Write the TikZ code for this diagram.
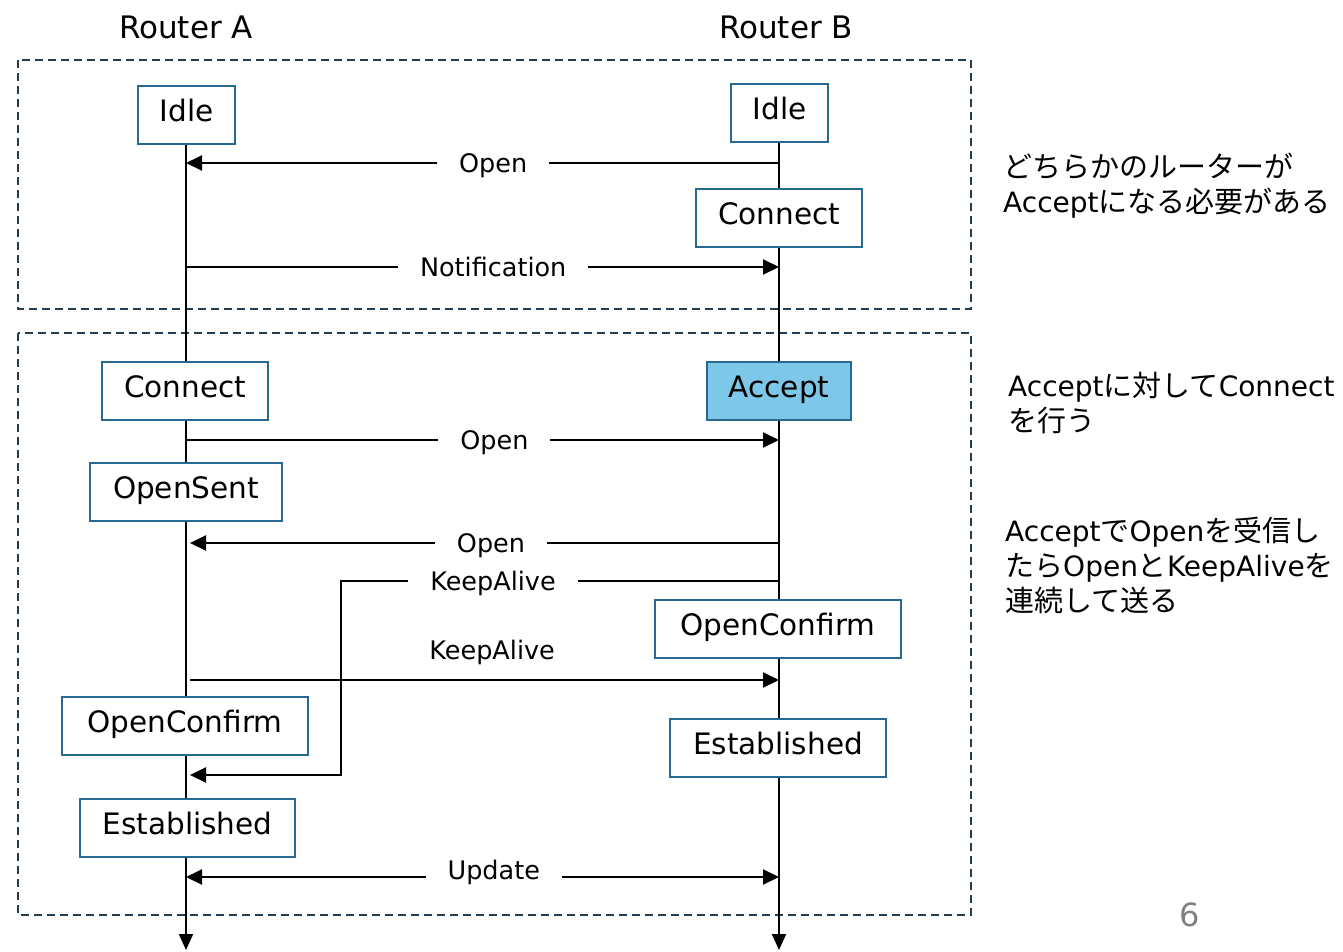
\documentclass[tikz,border=0pt]{standalone}
\usepackage{fontspec}
\setmainfont{DejaVu Sans}
\newfontfamily\jpfont{Noto Sans CJK JP}
\usetikzlibrary{arrows.meta,backgrounds}
\definecolor{boxc}{RGB}{40,105,145}
\definecolor{framec}{RGB}{35,60,80}
\definecolor{acceptc}{RGB}{125,200,233}
\definecolor{pagec}{RGB}{128,128,128}
\newcommand\jpt[1]{{\jpfont\fontsize{29}{35}\selectfont #1}}
\begin{document}
\begin{tikzpicture}[x=1pt,y=-1pt,
  stbox/.style={draw=boxc, line width=1.6pt, fill=white, minimum width=#1, minimum height=58pt,
    inner xsep=2pt, inner ysep=0pt, text height=21.5pt, text depth=8pt,
    font=\fontsize{29.5}{35}\selectfont},
  msg/.style={line width=2pt, -{Triangle[length=16pt,width=15pt]}},
  life/.style={line width=2pt, -{Triangle[length=16pt,width=14pt]}},
  lbl/.style={fill=white, inner xsep=22pt, inner ysep=1.5pt, text height=18.6pt, text depth=0pt,
    font=\fontsize{25.5}{30}\selectfont},
  plainlbl/.style={inner sep=0pt, text height=18.6pt, text depth=0pt, font=\fontsize{25.5}{30}\selectfont},
  dashframe/.style={draw=framec, line width=1.6pt, dash pattern=on 8pt off 5pt},
  annot/.style={anchor=west, align=left, inner sep=0pt, font=\fontsize{28}{35}\selectfont},
  rtitle/.style={text height=22.6pt, text depth=0pt, inner sep=0pt, font=\fontsize{31}{36}\selectfont}]
\useasboundingbox (0,0) rectangle (1343,951);

% titles
\node[rtitle] (ra) at (186,27) {Router A};
\node[rtitle] (rb) at (786,27) {Router B};

% state boxes
\node[stbox=97pt] (idleA) at (186.5,115) {Idle};
\node[stbox=97pt] (idleB) at (779.5,113) {Idle};
\node[stbox=166pt] (connB) at (779,218) {Connect};
\node[stbox=166pt] (connA) at (185,391) {Connect};
\node[stbox=144pt, fill=acceptc] (accB) at (779,391) {Accept};
\node[stbox=192pt] (sentA) at (186,492) {OpenSent};
\node[stbox=246pt] (confB) at (778,629) {OpenConfirm};
\node[stbox=246pt] (confA) at (185,726) {OpenConfirm};
\node[stbox=216pt] (estB) at (778,748) {Established};
\node[stbox=215pt] (estA) at (187.5,828) {Established};

% coordinates on lifelines
\coordinate (a1) at (186,163); \coordinate (b1) at (779,163);
\coordinate (a2) at (186,267); \coordinate (b2) at (779,267);
\coordinate (a3) at (186,440); \coordinate (b3) at (779,440);
\coordinate (a4) at (190,543); \coordinate (b4) at (779,543);
\coordinate (b5) at (779,581); \coordinate (k1) at (341,581);
\coordinate (k2) at (341,775); \coordinate (a5) at (190,775);
\coordinate (a6) at (190,680); \coordinate (b6) at (779,680);
\coordinate (a7) at (186,877); \coordinate (b7) at (779,877);
\coordinate (endA) at (186,950); \coordinate (endB) at (779,950);

\begin{scope}[on background layer]
  \draw[dashframe] (18,60) rectangle (971,309);
  \draw[dashframe] (18,333) rectangle (971,915);
  \draw[life] (endA |- idleA.south) -- (endA);
  \draw[life] (endB |- idleB.south) -- (endB);
\end{scope}

% messages
\draw[msg] (b1) -- node[lbl, pos=0.482] {Open} (a1);
\draw[msg] (a2) -- node[lbl, pos=0.518] {Notification} (b2);
\draw[msg] (a3) -- node[lbl, pos=0.52] {Open} (b3);
\draw[msg] (b4) -- node[lbl, pos=0.489] {Open} (a4);
\draw[msg] (b5) -- node[lbl, pos=0.653] {KeepAlive} (k1) -- (k2) -- (a5);
\draw[msg] (a6) -- node[plainlbl, pos=0.513, yshift=30pt] {KeepAlive} (b6);
\draw[line width=2pt, {Triangle[length=16pt,width=15pt]}-{Triangle[length=16pt,width=15pt]}]
  (a7) -- node[lbl, pos=0.519, yshift=6.5pt] {Update} (b7);

% annotations
\node[annot] (n1) at (1003,185.5) {\jpt{どちらかのルーターが}\\Accept\jpt{になる必要がある}};
\node[annot] (n2) at (1008,403) {Accept\jpt{に対して}Connect\\\jpt{を行う}};
\node[annot] (n3) at (1005,565) {Accept\jpt{で}Open\jpt{を受信し}\\\jpt{たら}Open\jpt{と}KeepAlive\jpt{を}\\\jpt{連続して送る}};

\node[text=pagec, inner sep=0pt, text height=23pt, text depth=0pt, font=\fontsize{32}{36}\selectfont] (pg) at (1189.5,915) {6};
\end{tikzpicture}
\end{document}
